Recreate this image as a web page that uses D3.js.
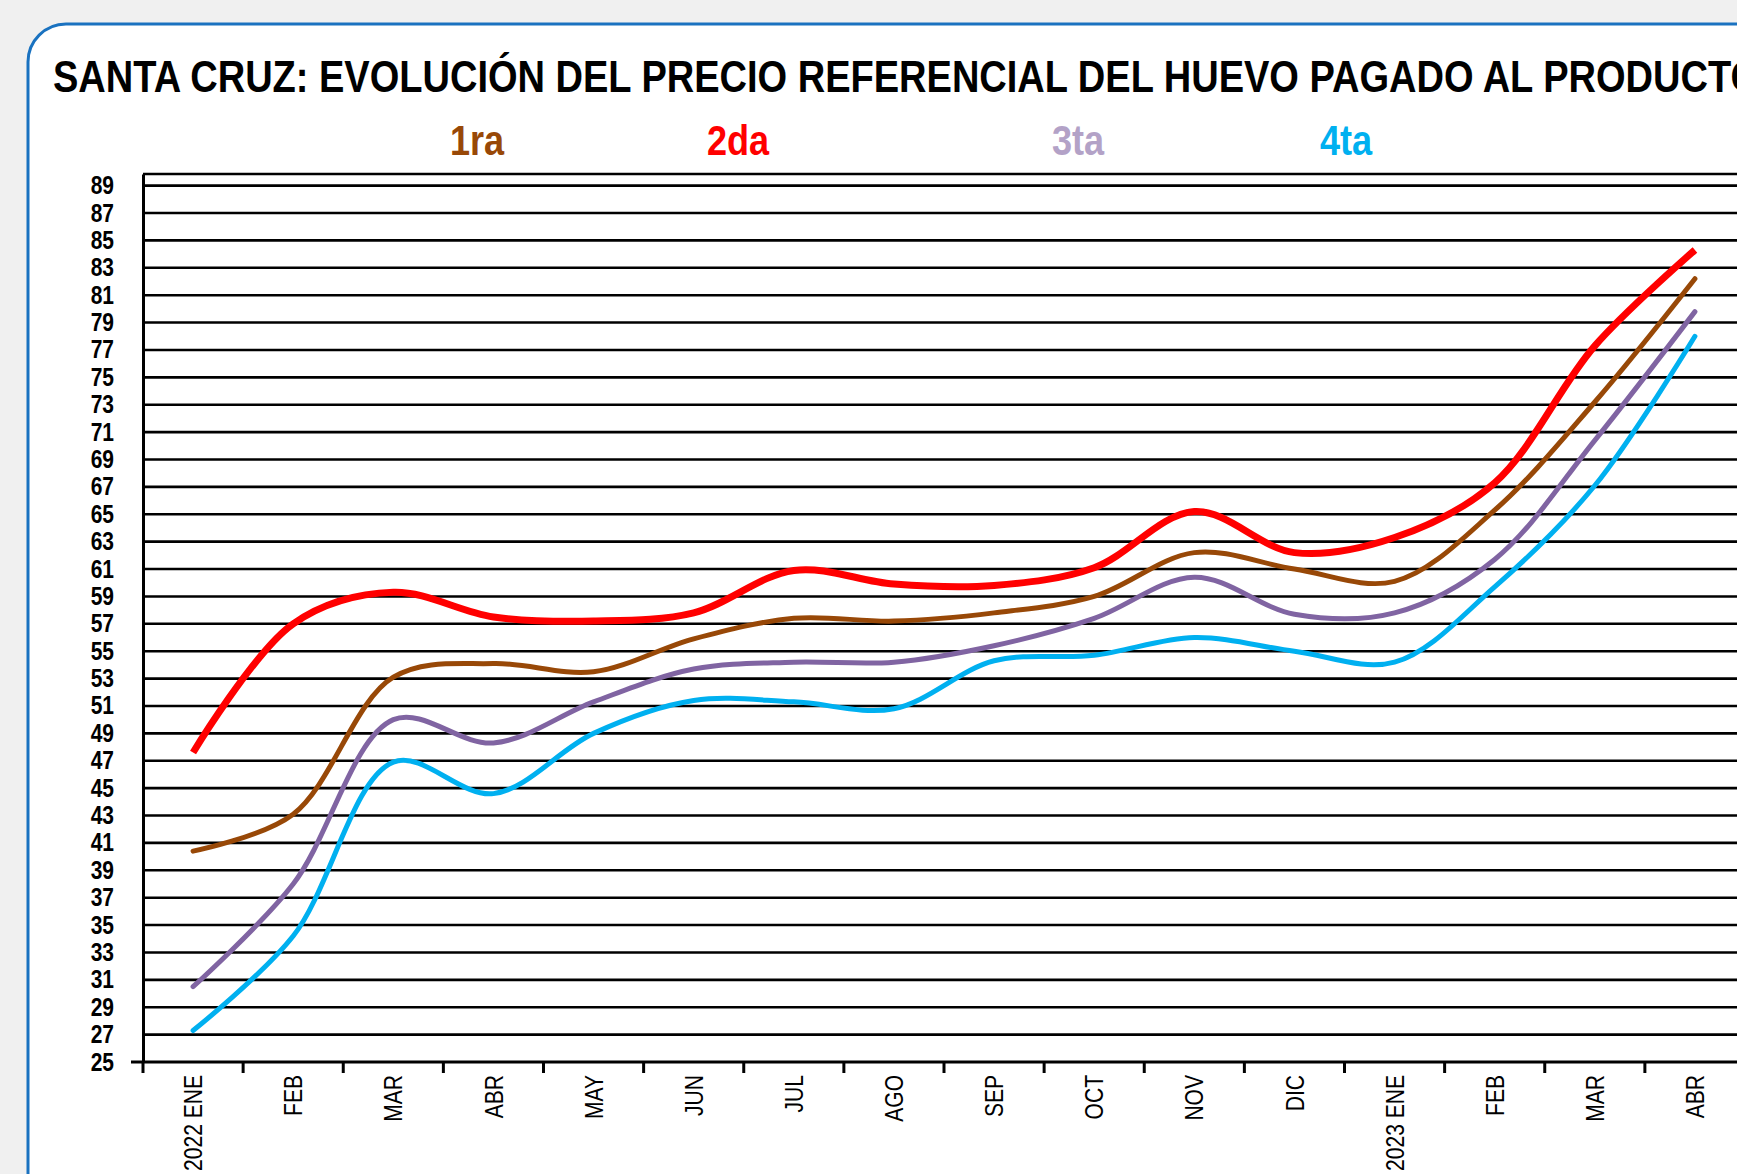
<!DOCTYPE html>
<html>
<head>
<meta charset="utf-8">
<script src="https://cdn.jsdelivr.net/npm/d3@7"></script>
<style>
  html, body { margin: 0; padding: 0; background: #f0f0f0; overflow: hidden; }
  svg { display: block; }
  .narrow { font-family: "Liberation Sans", Arial, sans-serif; }
</style>
</head>
<body>
<div id="chart"></div>
<script>
// months on the category axis (two years, so keyed by index)
const months = ["2022 ENE", "FEB", "MAR", "ABR", "MAY", "JUN", "JUL", "AGO", "SEP", "OCT", "NOV", "DIC", "2023 ENE", "FEB", "MAR", "ABR"];

// egg price paid to producer, by class
const primera = [40.4, 43.1, 53.1, 54.1, 53.5, 55.9, 57.4, 57.2, 57.8, 59.0, 62.2, 61.0, 60.1, 65.3, 73.2, 82.2];
const segunda = [47.6, 57.0, 59.3, 57.5, 57.2, 57.8, 60.9, 59.9, 59.8, 61.1, 65.2, 62.2, 63.3, 67.3, 77.3, 84.3];
const tercera = [30.5, 38.0, 50.0, 48.3, 51.3, 53.7, 54.2, 54.2, 55.4, 57.4, 60.4, 57.7, 57.8, 61.7, 70.4, 79.8];
const cuarta  = [27.3, 34.2, 46.9, 44.6, 49.0, 51.4, 51.3, 50.8, 54.3, 54.7, 56.0, 55.0, 54.2, 59.7, 67.1, 78.0];

const yTicks = d3.range(25, 90, 2);

const width = 1737, height = 1174;
const plot = { left: 143, right: 1745, top: 174, bottom: 1062 };
const narrowX = 0.84; // no Arial Narrow installed, squeeze Liberation Sans instead

const svg = d3.select("#chart").append("svg")
    .attr("width", width)
    .attr("height", height);

// page background + rounded panel (runs off the right / bottom edge)
svg.append("rect").attr("width", width).attr("height", height).attr("fill", "#f0f0f0");
const r = 38, px = 28, py = 24;
svg.append("path")
    .attr("d", `M${px},${height + 50} L${px},${py + r} A${r},${r} 0 0 1 ${px + r},${py} L${width + 50},${py} L${width + 50},${height + 50} Z`)
    .attr("fill", "#fff")
    .attr("stroke", "#1a72c0")
    .attr("stroke-width", 3);

// title
svg.append("text")
    .attr("class", "narrow")
    .attr("transform", `translate(53,92) scale(0.845,1)`)
    .attr("font-size", 45)
    .attr("font-weight", "bold")
    .attr("fill", "#000")
    .text("SANTA CRUZ: EVOLUCIÓN DEL PRECIO REFERENCIAL DEL HUEVO PAGADO AL PRODUCTOR");

// scales
const x = d3.scaleBand()
    .domain(d3.range(months.length))
    .range([plot.left, plot.right]);

const y = d3.scaleLinear()
    .domain([25, 89.85])
    .range([plot.bottom, plot.top]);

// gridlines
svg.append("g")
    .selectAll("line")
    .data(yTicks.filter(v => v > 25).concat([89.85]))
    .join("line")
    .attr("x1", plot.left).attr("x2", width + 10)
    .attr("y1", d => y(d)).attr("y2", d => y(d))
    .attr("stroke", "#000")
    .attr("stroke-width", 2.6);

// y axis
const yAxis = svg.append("g")
    .attr("transform", `translate(${plot.left},0)`)
    .call(d3.axisLeft(y).tickValues(yTicks).tickSize(0));
yAxis.select(".domain").attr("stroke", "#000").attr("stroke-width", 3);
yAxis.selectAll("text")
    .attr("class", "narrow")
    .attr("x", 0)
    .attr("transform", `translate(-29,0) scale(${narrowX},1)`)
    .attr("font-size", 25)
    .attr("font-weight", "bold")
    .attr("fill", "#000");

// x axis: labels centred in each band, ticks on band edges
const xAxis = svg.append("g")
    .attr("transform", `translate(0,${plot.bottom})`)
    .call(d3.axisBottom(x).tickSize(0).tickFormat(i => months[i]));
xAxis.select(".domain").remove();
xAxis.selectAll("text")
    .attr("class", "narrow")
    .attr("font-size", 26)
    .attr("fill", "#000")
    .attr("text-anchor", "end")
    .attr("dy", "0.35em")
    .attr("transform", "translate(0,13) rotate(-90) scale(0.81,1)")
    .attr("x", 0).attr("y", 0);

svg.append("line")
    .attr("x1", plot.left - 12).attr("x2", width + 10)
    .attr("y1", plot.bottom).attr("y2", plot.bottom)
    .attr("stroke", "#000").attr("stroke-width", 3);

svg.append("g")
    .selectAll("line")
    .data(d3.range(months.length + 1))
    .join("line")
    .attr("x1", i => plot.left + i * x.step())
    .attr("x2", i => plot.left + i * x.step())
    .attr("y1", plot.bottom).attr("y2", plot.bottom + 11)
    .attr("stroke", "#000").attr("stroke-width", 3);

// series lines
const series = [
    { name: "1ra", values: primera, color: "#984807", legend: "#984807", w: 5 },
    { name: "2da", values: segunda, color: "#ff0000", legend: "#ff0000", w: 7 },
    { name: "3ta", values: tercera, color: "#8064a2", legend: "#b3a2c7", w: 5 },
    { name: "4ta", values: cuarta,  color: "#00b0f0", legend: "#00b0f0", w: 5 }
];

const line = d3.line()
    .x((d, i) => x(i) + x.bandwidth() / 2)
    .y(d => y(d))
    .curve(d3.curveCatmullRom.alpha(0.5));

// draw 2da last so it sits on top
[series[0], series[2], series[3], series[1]].forEach(s => {
    svg.append("path")
        .datum(s.values)
        .attr("d", line)
        .attr("fill", "none")
        .attr("stroke", s.color)
        .attr("stroke-width", s.w)
        .attr("stroke-linejoin", "round")
        .attr("stroke-linecap", s.name === "2da" ? "butt" : "round");
});

// legend labels above the plot
const legendPos = { "1ra": 477, "2da": 738, "3ta": 1078, "4ta": 1346 };
svg.append("g")
    .selectAll("text")
    .data(series)
    .join("text")
    .attr("class", "narrow")
    .attr("transform", d => `translate(${legendPos[d.name]},155) scale(${narrowX},1)`)
    .attr("text-anchor", "middle")
    .attr("font-size", 43)
    .attr("font-weight", "bold")
    .attr("fill", d => d.legend)
    .text(d => d.name);
</script>
</body>
</html>
